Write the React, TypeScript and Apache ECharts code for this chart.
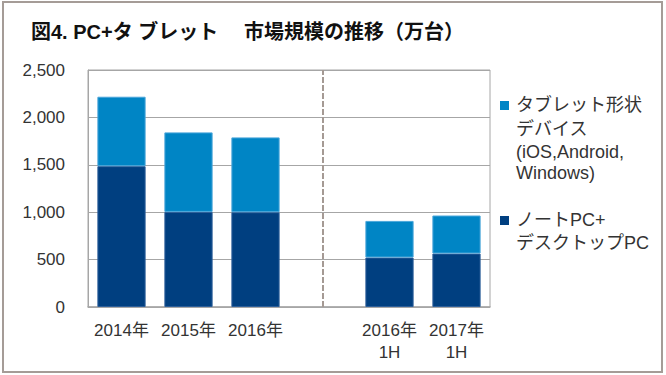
import React, { useEffect, useRef } from "react";
import * as echarts from "echarts";

const categories = ["2014年", "2015年", "2016年", "", "2016年\n1H", "2017年\n1H"];
const pcValues: (number | string)[] = [1486, 1003, 1000, "-", 522, 564];
const tabletValues: (number | string)[] = [732, 839, 789, "-", 386, 401];
const seriesNames = ["タブレット形状デバイス(iOS,Android,Windows)", "ノートPC+デスクトップPC"];
const legendLines = [
  ["タブレット形状", "デバイス", "(iOS,Android,", "Windows)"],
  ["ノートPC+", "デスクトップPC"],
];
const colors = ["#0085C5", "#003F80"];
const yTicks = { min: 0, max: 2500, interval: 500 };
const titleParts = ["図4. PC+タ ブレット", "市場規模の推移（万台）"];

export default function App() {
  const ref = useRef<HTMLDivElement>(null);
  useEffect(() => {
    if (!ref.current) return;
    const chart = echarts.init(ref.current, undefined, { renderer: "svg" });
    const legendGraphics: any[] = [];
    const markerY = [101, 216];
    const lineY = [
      [105, 129, 152, 173],
      [220, 243],
    ];
    legendLines.forEach((lines, i) => {
      legendGraphics.push({
        type: "rect",
        shape: { x: 500, y: markerY[i], width: 9, height: 9 },
        style: { fill: colors[i] },
      });
      lines.forEach((t, j) => {
        legendGraphics.push({
          type: "text",
          x: 516,
          y: lineY[i][j],
          style: {
            text: t,
            fill: "#333",
            font: '18px "Liberation Sans", "Noto Sans CJK JP", sans-serif',
            verticalAlign: "middle",
          },
        });
      });
    });
    const titleStyle = {
      fontSize: 20,
      fontWeight: "bold",
      color: "#111",
      fontFamily: '"Liberation Sans", "Noto Sans CJK JP", sans-serif',
    };
    chart.setOption({
      animation: false,
      backgroundColor: "#fff",
      title: [
        { text: titleParts[0], left: 26, top: 17, textStyle: titleStyle },
        { text: titleParts[1], left: 239, top: 17, textStyle: titleStyle },
      ],
      grid: {
        left: 88,
        right: 176,
        top: 70,
        bottom: 68,
        show: true,
        borderColor: "#a6a6a6",
        borderWidth: 1,
        outerBoundsMode: "none",
      },
      xAxis: {
        type: "category",
        data: categories,
        axisTick: { show: false },
        axisLine: { lineStyle: { color: "#a6a6a6", width: 1.5 } },
        axisLabel: {
          color: "#333",
          fontSize: 17,
          lineHeight: 22,
          margin: 12,
          interval: 0,
          fontFamily: '"Liberation Sans", "Noto Sans CJK JP", sans-serif',
        },
      },
      yAxis: {
        type: "value",
        ...yTicks,
        axisLine: { show: true, lineStyle: { color: "#a6a6a6" } },
        axisTick: { show: false },
        splitLine: { lineStyle: { color: "#a6a6a6", width: 1 } },
        axisLabel: {
          color: "#333",
          fontSize: 17,
          margin: 23,
          fontFamily: '"Liberation Sans", sans-serif',
          formatter: (v: number) => v.toLocaleString("en-US"),
        },
      },
      series: [
        {
          name: seriesNames[1],
          type: "bar",
          stack: "total",
          data: pcValues,
          barWidth: "72%",
          itemStyle: { color: colors[1], borderColor: "#2d5f9a", borderWidth: 1 },
        },
        {
          name: seriesNames[0],
          type: "bar",
          stack: "total",
          data: tabletValues,
          barWidth: "72%",
          itemStyle: { color: colors[0], borderColor: "#4aa6da", borderWidth: 1 },
          markLine: {
            silent: true,
            symbol: "none",
            label: { show: false },
            lineStyle: { type: [6, 2], color: "#a59a94", width: 2 },
            data: [{ xAxis: 3 }],
          },
        },
      ],
      graphic: [
        {
          type: "rect",
          shape: { x: 3, y: 2, width: 659, height: 370 },
          style: { fill: "none", stroke: "#a59c97", lineWidth: 2 },
          z: 100,
        },
        ...legendGraphics,
      ],
    });
    return () => chart.dispose();
  }, []);
  return (
    <div
      ref={ref}
      style={{ position: "absolute", left: 0, top: 0, width: 666, height: 375 }}
    />
  );
}
